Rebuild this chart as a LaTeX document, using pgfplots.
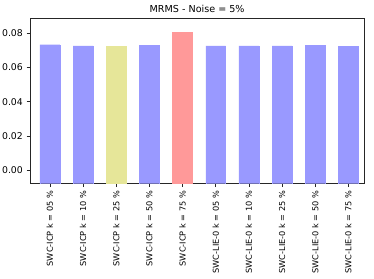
\documentclass[border=0pt]{standalone}
\usepackage{fontspec}
\setmainfont{DejaVu Sans}
\usepackage{pgfplots}
\pgfplotsset{compat=1.18}
\definecolor{cb}{RGB}{153,153,255}
\definecolor{cy}{RGB}{230,230,153}
\definecolor{cr}{RGB}{255,153,153}
\begin{document}
\begin{tikzpicture}
\begin{axis}[
  scale only axis,
  width=334.3bp, height=165.7bp,
  xmin=-0.6, xmax=9.48,
  ymin=-0.0078, ymax=0.0889,
  axis line style={line width=0.6bp, black!85},
  tick style={line width=0.6bp, black!85},
  tick align=outside,
  major tick length=3.5bp,
  xtick pos=lower, ytick pos=left,
  xtick={0,...,9},
  xticklabels={SWC-ICP k = 05 \%, SWC-ICP k = 10 \%, SWC-ICP k = 25 \%, SWC-ICP k = 50 \%, SWC-ICP k = 75 \%, SWC-LIE-0 k = 05 \%, SWC-LIE-0 k = 10 \%, SWC-LIE-0 k = 25 \%, SWC-LIE-0 k = 50 \%, SWC-LIE-0 k = 75 \%},
  xticklabel style={rotate=90, anchor=east, font=\fontsize{8.2bp}{9bp}\selectfont, inner sep=0pt, xshift=-3.5bp},
  ytick={0,0.02,0.04,0.06,0.08},
  yticklabel style={font=\fontsize{9.3bp}{10bp}\selectfont, inner sep=0pt, xshift=-3.5bp},
  /pgf/number format/assume math mode=true,
  yticklabel={\pgfmathprintnumber[fixed,fixed zerofill,precision=2]{\tick}},
  scaled y ticks=false,
  every axis title shift=0pt,
  title={MRMS - Noise = 5\%},
  title style={at={(0.5,1)}, anchor=base, yshift=5bp, inner sep=0pt, font=\fontsize{9.6bp}{11bp}\selectfont},
  ybar, bar width=0.6, bar shift=0pt,
]
\addplot[fill=cb, draw=cb, line width=0.4bp] coordinates {(0,-0.0078) (1,-0.0078) (3,-0.0078) (5,-0.0078) (6,-0.0078) (7,-0.0078) (8,-0.0078) (9,-0.0078)};
\addplot[fill=cy, draw=cy, line width=0.4bp] coordinates {(2,-0.0078)};
\addplot[fill=cr, draw=cr, line width=0.4bp] coordinates {(4,-0.0078)};
\addplot[fill=cb, draw=cb, line width=0.4bp] coordinates {(0,0.0733) (1,0.0726) (3,0.0728) (5,0.0726) (6,0.0726) (7,0.0726) (8,0.0728) (9,0.0724)};
\addplot[fill=cy, draw=cy, line width=0.4bp] coordinates {(2,0.0722)};
\addplot[fill=cr, draw=cr, line width=0.4bp] coordinates {(4,0.0809)};
\end{axis}
\path (-30bp,-95.3bp) rectangle (344bp,183.7bp);
\end{tikzpicture}
\end{document}
